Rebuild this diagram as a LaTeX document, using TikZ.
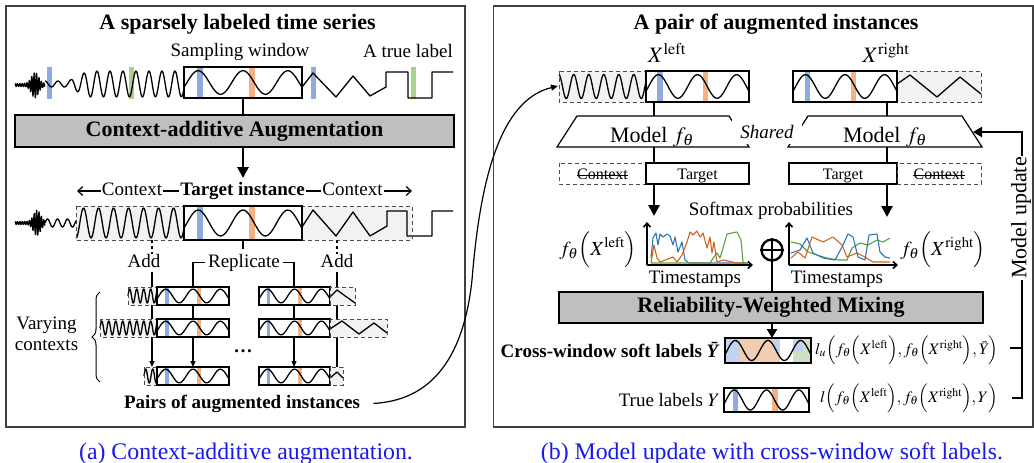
\documentclass[tikz,border=0pt]{standalone}
\usepackage{mathptmx}
\usepackage{fontspec}
\setmainfont{Liberation Serif}
\usetikzlibrary{arrows.meta,decorations.pathreplacing,calc}

\definecolor{barblue}{HTML}{8FAADC}
\definecolor{barorange}{HTML}{F4B183}
\definecolor{bargreen}{HTML}{A9D18E}
\definecolor{ctxgray}{HTML}{F2F2F2}
\definecolor{boxgray}{HTML}{BFBFBF}
\definecolor{panelgray}{HTML}{404040}
\definecolor{capblue}{RGB}{25,25,235}
\definecolor{pblue}{HTML}{2E75B6}
\definecolor{porange}{HTML}{D5611C}
\definecolor{pgreen}{HTML}{5B9E3A}
\definecolor{sblue}{HTML}{C2D4EC}
\definecolor{sorange}{HTML}{F2CDB2}
\definecolor{sgreen}{HTML}{CFE0C0}

\newcommand\szN{\fontsize{19}{21}\selectfont}
\newcommand\szT{\bfseries\fontsize{22}{26}\selectfont}
\newcommand\szB{\bfseries\fontsize{19}{22}\selectfont}
\newcommand\szS{\fontsize{16}{19}\selectfont}
\newcommand\szM{\fontsize{22}{26}\selectfont}
\newcommand\szF{\fontsize{20}{24}\selectfont}
\newcommand\szX{\fontsize{22}{26}\selectfont}
\newcommand\szL{\fontsize{16}{19}\selectfont}
\newcommand\szC{\fontsize{23.8}{28}\selectfont}

\tikzset{
  wave/.style={line width=1.3pt, line join=round},
  thickbox/.style={draw, line width=2.6pt},
  ctxd/.style={draw=black!70, dash pattern=on 4pt off 3pt, line width=1pt},
  panel/.style={draw=panelgray, line width=1.5pt, inner sep=0pt},
  graybox/.style={draw, line width=1.2pt, fill=boxgray, inner sep=0pt},
  tconn/.style={line width=2.8pt},
  tarrow/.style={line width=2.8pt, -{Triangle[length=11pt,width=11pt]}},
  conn/.style={line width=1.2pt},
  sarrow/.style={line width=1.2pt, -{Triangle[length=6pt,width=5pt]}},
  barb/.style={line width=1.2pt, -{Straight Barb[length=5pt,width=9pt]}},
  axis/.style={line width=1.6pt, -{Straight Barb[length=4pt,width=7pt]}},
  plotline/.style={line width=1.1pt, line join=round},
  trap/.style={draw, line width=1.2pt, fill=white},
}

\newcommand\winwave[4]{\draw[wave] plot[domain=0:1,samples=90,smooth] ({#1+\x*(#2-#1)},{#3-(#4)*cos(360*(\x-0.12)/0.38)});}
\newcommand\sinew[6]{\draw[wave] plot[domain=#1:#2,samples=150,smooth] (\x,{#3-(#4)*sin(((\x-#6)/#5)*360)});}
\newcommand\inst[4]{%
  \fill[white] (#1,#2) rectangle (#3,#4);
  \fill[barblue] ({#1+0.111*(#3-#1)},#2) rectangle ({#1+0.161*(#3-#1)},#4);
  \fill[barorange] ({#1+0.555*(#3-#1)},#2) rectangle ({#1+0.605*(#3-#1)},#4);
  \winwave{#1}{#3}{(#2+#4)/2}{0.38*(#4-#2)}
  \draw[thickbox] (#1,#2) rectangle (#3,#4);}
\newcommand\ctxfill[4]{\fill[ctxgray] (#1,#2) rectangle (#3,#4);}
\newcommand\ctxline[4]{\draw[ctxd] (#1,#2) rectangle (#3,#4);}
\newcommand\burst[2]{\draw[wave] plot[domain=15:45,samples=91] (\x,{#2-(1.5+11.5*exp(0-((\x-#1)/5)*((\x-#1)/5)))*sin(150*\x)});}

\begin{document}
\begin{tikzpicture}[x=1pt,y=-1pt]
\useasboundingbox (0,0) rectangle (1034,463);

% ---------------- panels ----------------
\node[panel, minimum width=459pt, minimum height=421pt, anchor=north west] (pa) at (5,5) {};
\node[panel, minimum width=539.5pt, minimum height=421pt, anchor=north west] (pb) at (492.5,5) {};

% ================= LEFT PANEL =================
\node[font=\szT, anchor=base] (ta) at (237.5,29.5) {A sparsely labeled time series};
\node[font=\szN, anchor=base] (sw) at (240,56) {Sampling window};
\node[font=\szN, anchor=base] (tl) at (408,57) {A true label};

% row 1: time series
\fill[barblue] (46.5,67) rectangle (51.5,99);
\fill[bargreen] (128.5,67) rectangle (133.5,99);
\fill[barblue] (310.5,67) rectangle (315.5,99);
\fill[bargreen] (410.5,67) rectangle (415.5,99);
\burst{35}{85}
\draw[wave] plot[domain=45:184,samples=220,smooth] (\x,{84-(3+10*min(1,max(0,(\x-68)/20)))*sin(((\x-41.7)/13)*360)});
\draw[wave] (302,87) -- (313,73) -- (336,97) -- (353,76) -- (370,96) -- (386,87) -- (386,72) -- (408,72) -- (408,98) -- (432,98) -- (432,72) -- (453,72);
\inst{184}{67}{302}{98}

% augmentation box
\node[graybox, minimum width=439pt, minimum height=32pt, font=\szT] (caug) at (234.5,131) {Context-additive Augmentation};
\coordinate (w1b) at (243,98);
\draw[tconn] (w1b) -- (w1b |- caug.north);
\coordinate (r2top) at (243,178);
\draw[tarrow] (caug.south -| r2top) -- (r2top);

% context / target row label
\node[font=\szN, anchor=base, text height=13pt, text depth=4pt, inner sep=1pt] (cl) at (132,195.5) {Context};
\node[font=\szB, anchor=base, text height=13pt, text depth=4pt, inner sep=1pt] (ti) at (242.5,195.5) {Target instance};
\node[font=\szN, anchor=base, text height=13pt, text depth=4pt, inner sep=1pt] (cr) at (352.5,195.5) {Context};
\coordinate (al) at (77,191);
\coordinate (ar) at (412,191);
\draw[barb] (cl.west) -- (al);
\draw[conn] (cl.east) -- (ti.west);
\draw[conn] (ti.east) -- (cr.west);
\draw[barb] (cr.east) -- (ar);

% row 2
\ctxfill{76}{206}{412}{240}
\burst{37}{223}
\sinew{45}{76}{223}{4}{10}{45}
\sinew{76}{184}{223}{15}{15}{64.8}
\draw[wave] (302,227) -- (313,210) -- (336,236) -- (353,212) -- (370,236) -- (387,226) -- (387,211) -- (407,211) -- (407,236) -- (432,236) -- (432,211) -- (453,211);
\ctxline{76}{206}{412}{240}
\inst{184}{206}{302}{240}

% add / replicate connectors
\node[font=\szN, anchor=base] (addl) at (144,267) {Add};
\node[font=\szN, anchor=base] (addr) at (337,267) {Add};
\node[font=\szN, anchor=base] (rep) at (244,267) {Replicate};
\coordinate (aL1) at (152,240); \coordinate (aL2) at (152,254);
\coordinate (aL3) at (152,272); \coordinate (aL4) at (152,367);
\coordinate (aR1) at (337,240); \coordinate (aR2) at (337,254);
\coordinate (aR3) at (337,272); \coordinate (aR4) at (337,367);
\coordinate (rp1) at (243,240); \coordinate (rp2) at (243,249);
\coordinate (rpL) at (193,367); \coordinate (rpR) at (294,367);
\draw[conn, dashed] (aL1) -- (aL2);
\draw[sarrow] (aL3) -- (aL4);
\draw[conn, dashed] (aR1) -- (aR2);
\draw[conn] (aR3) -- (aR4);
\draw[conn] (rp1) -- (rp2);
\draw[sarrow] (rep.west) -| (rpL);
\draw[sarrow] (rep.east) -| (rpR);

% row 3
\ctxfill{128}{287}{157}{305}
\sinew{128}{157}{296}{7}{7}{128}
\ctxline{128}{287}{157}{305}
\inst{157}{287}{229}{305}
\inst{259}{287}{330}{305}
\ctxfill{330}{287}{355}{305}
\draw[wave] (330,297) -- (337,290) -- (355,303);
\ctxline{330}{287}{355}{305}

% row 4
\ctxfill{100}{319}{157}{337}
\sinew{100}{157}{328}{7}{7}{100}
\ctxline{100}{319}{157}{337}
\inst{157}{319}{229}{337}
\inst{259}{319}{330}{337}
\ctxfill{330}{319}{387}{337}
\draw[wave] (330,329) -- (342,321) -- (359,334) -- (374,323) -- (387,333);
\ctxline{330}{319}{387}{337}

% row 5
\ctxfill{144}{367}{157}{385}
\sinew{144}{157}{376}{7}{7}{144}
\ctxline{144}{367}{157}{385}
\inst{157}{367}{229}{385}
\inst{259}{367}{330}{385}
\ctxfill{330}{367}{343}{385}
\draw[wave] (330,378) -- (337,372) -- (343,378);
\ctxline{330}{367}{343}{385}

\node[font=\szB, anchor=base] (dots) at (243,352) {\ldots};

% brace and label
\coordinate (br1) at (100,382); \coordinate (br2) at (100,292);
\draw[line width=1pt, decorate, decoration={brace, amplitude=8pt}] (br1) -- (br2);
\node[font=\szN, anchor=base] (vc1) at (46.5,329) {Varying};
\node[font=\szN, anchor=base] (vc2) at (46.5,350) {contexts};

\node[font=\szB, anchor=base] (pairs) at (242,408) {Pairs of augmented instances};

% ================= RIGHT PANEL =================
\node[font=\szT, anchor=base] (tb) at (776,29.5) {A pair of augmented instances};
\node[font=\szX, anchor=base] (xl) at (667,62) {$X^{\mathrm{left}}$};
\node[font=\szX, anchor=base] (xr) at (886,62) {$X^{\mathrm{right}}$};

% left instance
\ctxfill{559}{71}{646}{102}
\sinew{559}{646}{86.5}{12}{15}{555}
\ctxline{559}{71}{646}{102}
\inst{646}{71}{749}{102}
% right instance
\ctxfill{897}{71}{981}{102}
\draw[wave] (897,84) -- (910,75) -- (937,97) -- (960,77) -- (981,94);
\ctxline{897}{71}{981}{102}
\inst{793}{71}{897}{102}

% curve from left panel
\coordinate (xlc) at (558,86);
\draw[line width=1.2pt, -{Triangle[length=7pt,width=6pt]}] ([xshift=10pt]pairs.east) .. controls (440,400) and (465,345) .. (472,280) .. controls (480,180) and (500,100) .. (xlc);

% models
\coordinate (l1) at (654,102); \coordinate (l2) at (654,116);
\coordinate (l3) at (654,147); \coordinate (l4) at (654,163);
\coordinate (l5) at (654,184); \coordinate (l6) at (654,216);
\coordinate (r1) at (887,102); \coordinate (r2) at (887,116);
\coordinate (r3) at (887,147); \coordinate (r4) at (887,163);
\coordinate (r5) at (887,184); \coordinate (r6) at (887,217);
\draw[tconn] (l1) -- (l2);
\draw[tconn] (r1) -- (r2);
\draw[trap] (557,147) -- (577,116) -- (729,116) -- (749,147) -- cycle;
\draw[trap] (788,147) -- (808,116) -- (962,116) -- (982,147) -- cycle;
\node[font=\szM, anchor=base] (ml) at (652,142) {Model $f_\theta$};
\node[font=\szM, anchor=base] (mr) at (885,142) {Model $f_\theta$};
\node[font=\itshape\szN, fill=white, minimum width=70pt, minimum height=24pt, inner sep=0pt] (sh) at (767,132) {Shared};
\draw[tconn] (l3) -- (l4);
\draw[tconn] (r3) -- (r4);

% context / target output boxes
\draw[ctxd] (559,163) rectangle (646,184);
\draw[thickbox] (646,163) rectangle (749,184);
\draw[thickbox] (789,163) rectangle (897,184);
\draw[ctxd] (897,163) rectangle (981,184);
\node[font=\szS, anchor=base, inner sep=0pt] (cx1) at (602.5,179) {Context};
\node[font=\szS, anchor=base, inner sep=0pt] (tg1) at (697.5,179) {Target};
\node[font=\szS, anchor=base, inner sep=0pt] (tg2) at (843,179) {Target};
\node[font=\szS, anchor=base, inner sep=0pt] (cx2) at (939,179) {Context};
\draw[line width=0.8pt] ([yshift=-1.5pt]cx1.west) -- ([yshift=-1.5pt]cx1.east);
\draw[line width=0.8pt] ([yshift=-1.5pt]cx2.west) -- ([yshift=-1.5pt]cx2.east);

\draw[tarrow] (l5) -- (l6);
\draw[tarrow] (r5) -- (r6);

\node[font=\szN, anchor=base] (smx) at (771,215.7) {Softmax probabilities};

% left chart
\draw[plotline, pblue] (651,258) -- (653,238) -- (656,233) -- (658,245) -- (660,234) -- (663,237) -- (667,234) -- (670,236) -- (673,245) -- (675,237) -- (678,252) -- (682,242) -- (685,260) -- (689,263) -- (748,263);
\draw[plotline, porange] (651,263) -- (654,245) -- (657,258) -- (660,262) -- (673,257) -- (677,262) -- (682,255) -- (687,242) -- (690,232) -- (693,235) -- (697,231) -- (700,237) -- (703,233) -- (707,248) -- (710,237) -- (712,253) -- (714,242) -- (717,262) -- (723,260) -- (737,263) -- (746,263);
\draw[plotline, pgreen] (651,263) -- (710,263) -- (714,257) -- (717,253) -- (720,258) -- (723,248) -- (727,234) -- (737,232) -- (741,240) -- (743,262) -- (746,263);
\coordinate (o1) at (647,265); \coordinate (o1y) at (647,222); \coordinate (o1x) at (753,265);
\draw[axis] (o1) -- (o1y);
\draw[axis] (o1) -- (o1x);

% right chart
\draw[plotline, pgreen] (791,242) -- (800,244) -- (808,252) -- (817,255) -- (827,258) -- (838,260) -- (847,260) -- (852,248) -- (860,243) -- (868,245) -- (877,240) -- (883,242) -- (890,238);
\draw[plotline, porange] (791,258) -- (798,252) -- (805,258) -- (812,237) -- (823,242) -- (833,237) -- (842,245) -- (847,257) -- (857,253) -- (865,257) -- (873,262) -- (890,262);
\draw[plotline, pblue] (791,253) -- (800,250) -- (807,238) -- (813,253) -- (823,258) -- (835,260) -- (842,247) -- (848,234) -- (853,237) -- (858,257) -- (865,260) -- (869,235) -- (877,234) -- (880,252) -- (885,257) -- (890,258);
\coordinate (o2) at (789,265); \coordinate (o2y) at (789,222); \coordinate (o2x) at (898,265);
\draw[axis] (o2) -- (o2y);
\draw[axis] (o2) -- (o2x);

\node[font=\szF, anchor=base] (fl) at (598,255) {$f_\theta\Bigl(X^{\mathrm{left}}\Bigr)$};
\node[font=\szF, anchor=base] (fr) at (943,255) {$f_\theta\Bigl(X^{\mathrm{right}}\Bigr)$};
\node[font=\szN, anchor=base] (ts1) at (695,283) {Timestamps};
\node[font=\szN, anchor=base] (ts2) at (837,283) {Timestamps};

% oplus and mixing
\node[circle, draw, line width=2.4pt, minimum size=21pt, inner sep=0pt] (op) at (772,250) {};
\draw[line width=1.6pt] (op.north) -- (op.south) (op.west) -- (op.east);
\node[graybox, minimum width=424pt, minimum height=31pt, font=\szT] (rwm) at (771,307.5) {Reliability-Weighted Mixing};
\draw[tconn] (op.south) -- (op.south |- rwm.north);
\coordinate (slt) at (772,338);
\draw[line width=2.8pt, -{Triangle[length=9pt,width=10pt]}] (rwm.south -| slt) -- (slt);

% soft label box
\fill[sblue] (725,338) rectangle (740,363);
\fill[sorange] (740,338) rectangle (773,363);
\fill[sblue] (773,338) rectangle (780,350.5);
\fill[sorange] (773,350.5) rectangle (780,363);
\fill[sblue] (793,338) rectangle (803,350.5);
\fill[sgreen] (803,338) rectangle (811,350.5);
\fill[sgreen] (793,350.5) rectangle (811,363);
\winwave{725}{811}{350.5}{10}
\draw[line width=1.4pt] (725,338) rectangle (811,363);
\node[font=\szB, anchor=base east, inner sep=0pt] (cws) at (720,357.7) {Cross-window soft labels \textit{Ȳ}};

% true label box
\fill[barblue] (732.5,388) rectangle (738,412);
\fill[barorange] (772,388) rectangle (777.5,412);
\winwave{724}{809}{400}{10}
\draw[line width=1.4pt] (724,388) rectangle (809,412);
\node[font=\szN, anchor=base east, inner sep=0pt] (trl) at (720,406) {True labels $Y$};

% losses
\node[font=\szL, anchor=base west, inner sep=0pt] (lu) at (815,354) {$l_u\Bigl(f_\theta\Bigl(X^{\mathrm{left}}\Bigr),f_\theta\Bigl(X^{\mathrm{right}}\Bigr),\mbox{\textit{Ȳ}}\Bigr)$};
\node[font=\szL, anchor=base west, inner sep=0pt] (ll) at (820,402) {$l\Bigl(f_\theta\Bigl(X^{\mathrm{left}}\Bigr),f_\theta\Bigl(X^{\mathrm{right}}\Bigr),Y\Bigr)$};

% model update bracket
\coordinate (mu1) at (1012,398); \coordinate (mu2) at (1022,398);
\coordinate (mu3) at (1022,132); \coordinate (mu4) at (973,132);
\coordinate (mu5) at (1010,348); \coordinate (mu6) at (1022,348);
\draw[tconn, line join=miter, -{Triangle[length=9pt,width=10pt]}] (mu1) -- (mu2) -- (mu3) -- (mu4);
\draw[tconn] (mu5) -- (mu6);
\node[font=\szM, rotate=90, fill=white, inner sep=1pt] (mu) at (1021,218) {Model update};

% captions
\node[font=\szC, text=capblue, anchor=base] (capa) at (246,459) {(a) Context-additive augmentation.};
\node[font=\szC, text=capblue, anchor=base] (capb) at (772,459) {(b) Model update with cross-window soft labels.};
\end{tikzpicture}
\end{document}
